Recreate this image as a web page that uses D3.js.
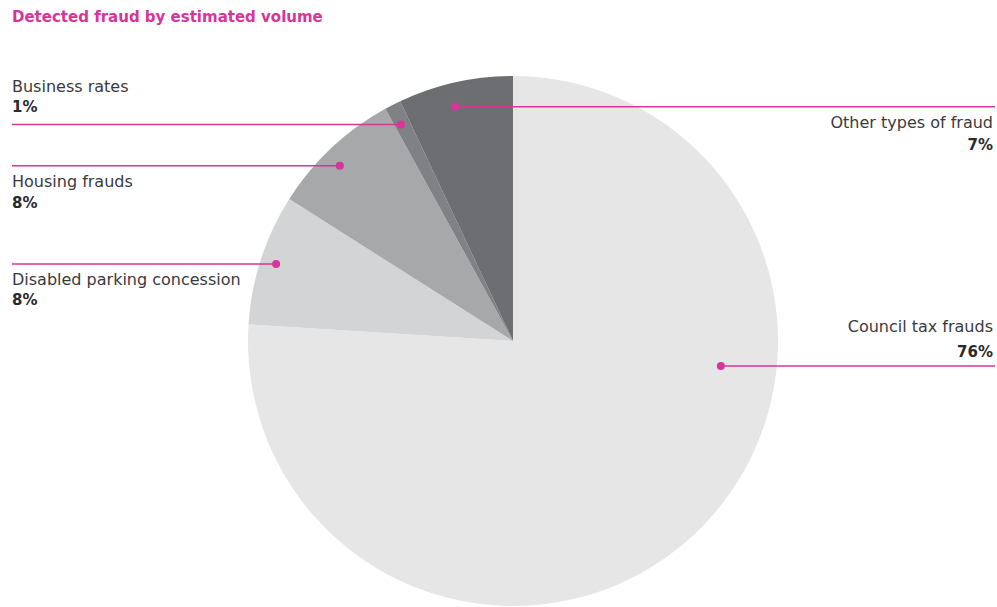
<!DOCTYPE html>
<html>
<head>
<meta charset="utf-8">
<script src="https://cdn.jsdelivr.net/npm/d3@7"></script>
<style>
  body { margin: 0; background: #fff; }
  text { font-family: "DejaVu Sans", sans-serif; }
</style>
</head>
<body>
<div id="chart"></div>
<script>
// slices, clockwise from 12 o'clock
var categories = ["Council tax frauds", "Disabled parking concession", "Housing frauds", "Business rates", "Other types of fraud"];
var values = [76, 8, 8, 1, 7];
var labels = ["76%", "8%", "8%", "1%", "7%"];
var colors = ["#e6e6e6", "#d3d4d6", "#a7a8aa", "#808184", "#6d6e71"];

var width = 997, height = 607;
var cx = 513, cy = 341, radius = 265;
var magenta = "#d6359a";

var svg = d3.select("#chart").append("svg")
    .attr("width", width)
    .attr("height", height);

svg.append("text")
    .attr("x", 12)
    .attr("y", 22)
    .attr("fill", magenta)
    .attr("font-weight", "bold")
    .attr("font-size", 15)
    .text("Detected fraud by estimated volume");

var pie = d3.pie().sort(null).value(function(d) { return d; });
var arcs = pie(values);
var arc = d3.arc().innerRadius(0).outerRadius(radius);

var g = svg.append("g").attr("transform", "translate(" + cx + "," + cy + ")");

g.selectAll("path")
    .data(arcs)
    .enter()
    .append("path")
    .attr("d", arc)
    .attr("fill", function(d, i) { return colors[i]; });

// where the dot sits in each slice (fraction of slice angle, fraction of radius)
// and which side the label goes to, plus text offsets from the leader line
var layout = [
    { t: 0.354, r: 0.79, side: "right", nameDy: -34, valDy: -9 },
    { t: 0.5,  r: 0.94, side: "left",  nameDy: 21,  valDy: 41 },
    { t: 0.45, r: 0.93, side: "left",  nameDy: 21,  valDy: 42 },
    { t: 0.4,  r: 0.92, side: "left",  nameDy: -32, valDy: -12 },
    { t: 0.45, r: 0.91, side: "right", nameDy: 21,  valDy: 43 }
];

arcs.forEach(function(d, i) {
    var L = layout[i];
    var a = d.startAngle + (d.endAngle - d.startAngle) * L.t;
    var px = cx + Math.sin(a) * radius * L.r;
    var py = cy - Math.cos(a) * radius * L.r;
    var endX = L.side === "left" ? 12 : 995;
    var textX = L.side === "left" ? 12 : 993;
    var anchor = L.side === "left" ? "start" : "end";

    svg.append("line")
        .attr("x1", px).attr("y1", py)
        .attr("x2", endX).attr("y2", py)
        .attr("stroke", magenta)
        .attr("stroke-width", 1.5);

    svg.append("circle")
        .attr("cx", px).attr("cy", py)
        .attr("r", 4)
        .attr("fill", magenta);

    svg.append("text")
        .attr("x", textX)
        .attr("y", py + L.nameDy)
        .attr("text-anchor", anchor)
        .attr("font-size", 16)
        .attr("fill", "#3a3a3c")
        .text(categories[i]);

    svg.append("text")
        .attr("x", textX)
        .attr("y", py + L.valDy)
        .attr("text-anchor", anchor)
        .attr("font-size", 15)
        .attr("font-weight", "bold")
        .attr("fill", "#2a2a2c")
        .text(labels[i]);
});
</script>
</body>
</html>
